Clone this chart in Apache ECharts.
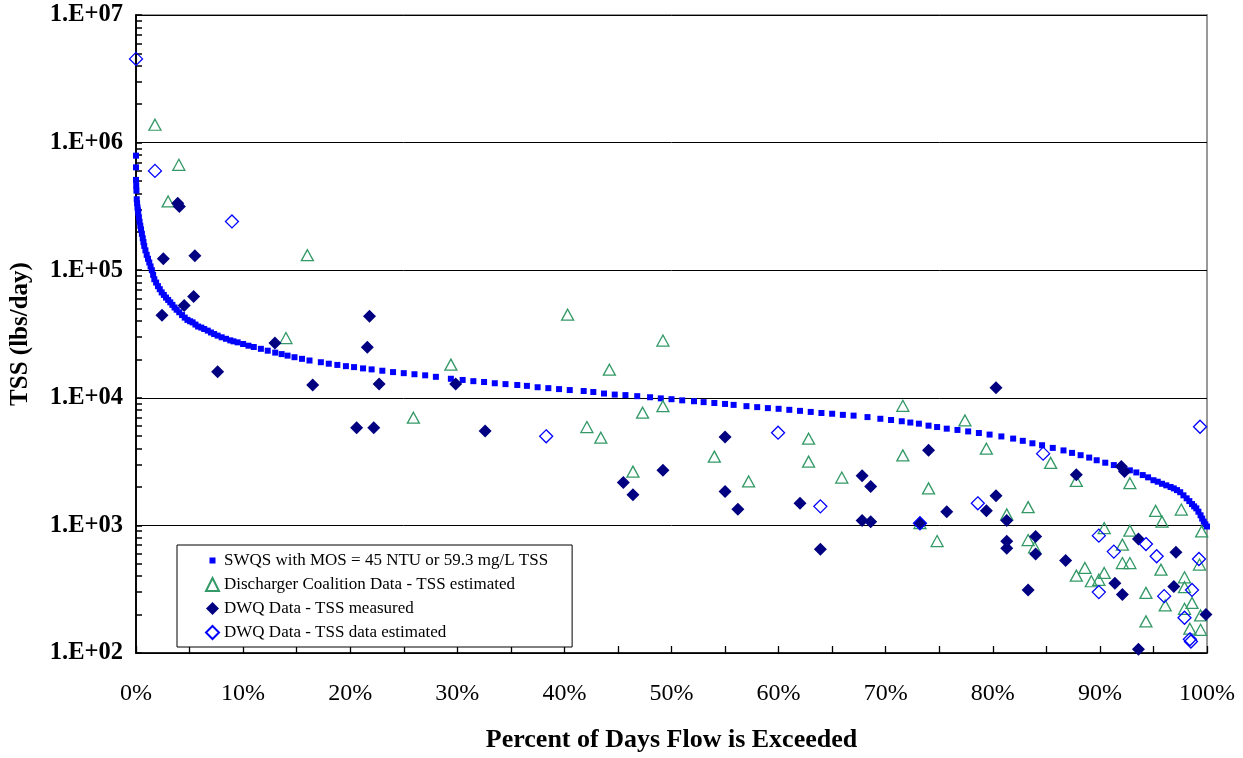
<!DOCTYPE html>
<html>
<head>
<meta charset="utf-8">
<script src="https://cdn.jsdelivr.net/npm/echarts@6/dist/echarts.min.js"></script>
<style>
  html, body { margin: 0; padding: 0; background: #fff; }
  #chart { width: 1243px; height: 758px; }
</style>
</head>
<body>
<div id="chart"></div>
<script>
// SWQS load duration curve (percent exceeded, TSS lbs/day)
const curvePct = [0, 0, 0, 0.02, 0.04, 0.07, 0.1, 0.14, 0.18, 0.21, 0.27, 0.33, 0.4, 0.47, 0.55, 0.63, 0.7, 0.77, 0.88, 1.0,
  1.12, 1.24, 1.36, 1.48, 1.6, 1.71, 1.88, 2.05, 2.22, 2.4, 2.6, 2.8, 3.0, 3.2, 3.4, 3.6, 3.8, 4.04, 4.3, 4.55,
  4.8, 5.05, 5.29, 5.55, 5.8, 6.1, 6.37, 6.7, 7.0, 7.3, 7.62, 8.0, 8.4, 8.8, 9.1, 9.49, 10.0, 10.5, 11.0, 11.66,
  12.3, 13.0, 13.6, 14.15, 14.8, 15.5, 16.2, 17.26, 18.0, 18.8, 19.6, 20.36, 21.2, 22.0, 23, 24, 25, 26, 27, 28,
  29.4, 30.5, 31.5, 32.5, 33.5, 34.5, 35.6, 36.5, 37.5, 38.5, 39.5, 40.5, 41.8, 42.7, 43.7, 44.7, 45.7, 46.8, 48.0, 49.0,
  50.0, 51.0, 52.1, 53.0, 54.0, 55.0, 55.8, 57.0, 58.0, 59.0, 60.0, 61.0, 62.0, 63.0, 64.0, 65.0, 66.0, 67.0, 68.3, 69.5,
  70.5, 71.5, 72.3, 73.1, 74.0, 74.8, 75.7, 76.7, 77.7, 78.7, 79.7, 80.8, 81.9, 82.8, 83.7, 84.6, 85.6, 86.6, 87.4, 88.2,
  89.0, 89.7, 90.5, 91.3, 92.0, 92.8, 93.4, 94.0, 94.5, 95.0, 95.4, 95.8, 96.2, 96.6, 96.9, 97.2, 97.5, 97.8, 98.1, 98.35,
  98.6, 98.8, 99.0, 99.2, 99.4, 99.55, 99.7, 99.85, 100]
const curveTss = [790000, 640000, 510000, 460000, 420000, 360000, 335000, 310000, 295000, 283000, 260000, 240000, 223000, 209000, 193000, 178000, 166000, 155000, 143000, 132000,
  123000, 115000, 107000, 100000, 92000, 85000, 80000, 75000, 71000, 67000, 64000, 61000, 58500, 56000, 53500, 51000, 49000, 46800, 44500, 42500,
  40800, 39800, 39000, 37500, 36200, 35500, 34600, 33600, 32500, 31600, 30700, 29800, 29000, 28200, 27700, 27200, 26400, 25600, 25000, 24200,
  23400, 22600, 22000, 21400, 20800, 20200, 19600, 19000, 18500, 18100, 17700, 17400, 17000, 16700, 16300, 15900, 15600, 15300, 15000, 14600,
  14100, 13800, 13500, 13300, 13000, 12800, 12600, 12400, 12100, 11900, 11700, 11500, 11300, 11100, 10800, 10600, 10500, 10300, 10100, 9900,
  9750, 9550, 9400, 9250, 9100, 8950, 8800, 8600, 8450, 8300, 8200, 8050, 7900, 7750, 7600, 7500, 7350, 7250, 7060, 6850,
  6700, 6550, 6400, 6270, 6050, 5900, 5730, 5600, 5450, 5300, 5150, 4980, 4790, 4600, 4400, 4250, 4050, 3870, 3700, 3550,
  3400, 3240, 3100, 2970, 2830, 2700, 2600, 2480, 2380, 2260, 2200, 2120, 2060, 2000, 1950, 1890, 1820, 1720, 1630, 1550,
  1470, 1410, 1360, 1280, 1200, 1130, 1070, 1020, 980]

// Discharger Coalition Data - TSS estimated
const coalitionPct = [1.77, 4.0, 3.0, 16.0, 14.0, 25.9, 29.4, 40.3, 42.1, 43.4, 44.2, 47.3, 49.2, 49.2, 46.4, 54.0, 57.2, 62.8, 62.8, 65.9,
  71.6, 71.6, 77.4, 79.4, 74.0, 85.4, 87.8, 92.8, 73.2, 74.8, 81.3, 83.3, 83.3, 83.9, 90.4, 92.8, 92.1, 88.6, 87.8, 89.2,
  89.9, 90.4, 92.1, 92.8, 94.3, 94.3, 95.2, 95.8, 95.7, 96.1, 97.6, 97.9, 97.9, 97.9, 98.6, 98.4, 99.4, 99.5, 99.3, 99.4]
const coalitionTss = [1380000, 670000, 346000, 131000, 29400, 6980, 18200, 44800, 5900, 4870, 16600, 7640, 28100, 8600, 2640, 3460, 2210, 4780, 3160, 2370,
  8660, 3540, 6650, 3990, 1950, 3090, 2230, 2140, 1040, 754, 1220, 1390, 768, 673, 953, 909, 707, 464, 404, 365,
  375, 424, 507, 507, 296, 177, 1300, 1070, 450, 236, 1330, 392, 328, 222, 247, 155, 152, 898, 493, 197]

// DWQ Data - TSS measured
const measuredPct = [3.9, 4.05, 2.55, 5.5, 5.38, 4.5, 2.43, 12.97, 7.62, 16.5, 21.8, 21.6, 20.6, 22.7, 29.85, 22.2, 32.6, 45.5, 49.2, 46.4,
  55.0, 55.0, 56.2, 62.0, 63.9, 67.8, 68.6, 67.8, 68.6, 80.3, 74.0, 87.8, 92.0, 92.3, 73.2, 75.7, 79.4, 80.3, 81.3, 81.3,
  81.3, 84.0, 84.0, 83.3, 86.8, 91.4, 92.1, 93.6, 97.1, 96.9, 99.9, 93.6]
const measuredTss = [335000, 315000, 123000, 130000, 62300, 53000, 44300, 26900, 16000, 12600, 43500, 24900, 5830, 12800, 12800, 5830, 5490, 2170, 2700, 1740,
  4930, 1840, 1340, 1490, 649, 2450, 2020, 1090, 1070, 12000, 3880, 2490, 2900, 2650, 1040, 1280, 1300, 1710, 1090, 750,
  661, 820, 597, 312, 530, 352, 288, 782, 615, 332, 200, 107]

// DWQ Data - TSS data estimated
const estimatedPct = [0, 1.77, 8.96, 38.3, 59.95, 63.9, 99.35, 84.7, 78.6, 73.2, 89.9, 91.3, 94.3, 95.3, 99.25, 89.9, 96.0, 98.6, 97.9, 98.4, 98.5]
const estimatedTss = [4530000, 600000, 241000, 4990, 5330, 1410, 5930, 3650, 1490, 1040, 831, 623, 714, 573, 545, 300, 279, 312, 189, 128, 123]

const seriesNames = [
  'SWQS with MOS = 45 NTU or 59.3 mg/L TSS',
  'Discharger Coalition Data - TSS estimated',
  'DWQ Data - TSS measured',
  'DWQ Data - TSS data estimated'
]

const pairs = (xs, ys) => xs.map((x, i) => [x, ys[i]])

// minor ticks 1..9 per decade, placed on a hidden exponent axis
const minorTicks = []
for (let e = 2; e < 7; e++) {
  for (let m = 1; m < 10; m++) minorTicks.push(Math.log10(m * Math.pow(10, e)))
}
minorTicks.push(7)

const serif = "'Liberation Serif', 'Times New Roman', serif"

const chart = echarts.init(document.getElementById('chart'))

const option = {
  animation: false,
  grid: {
    left: 135,
    right: 36,
    top: 15,
    bottom: 102,
    show: true,
    borderColor: '#999',
    borderWidth: 2
  },
  legend: {
    orient: 'vertical',
    left: 177,
    top: 545,
    padding: [7, 24, 6, 28],
    itemGap: 7,
    itemWidth: 13,
    itemHeight: 13,
    backgroundColor: '#fff',
    borderColor: '#000',
    borderWidth: 1,
    borderRadius: 0,
    textStyle: { fontFamily: serif, fontSize: 17, color: '#000' },
    data: [
      { name: seriesNames[0], icon: 'path://M0,0h0.05v0.05h-0.05z M3.5,3.5h6v6h-6z M12.95,12.95h0.05v0.05h-0.05z' },
      { name: seriesNames[1] },
      { name: seriesNames[2] },
      { name: seriesNames[3] }
    ]
  },
  xAxis: {
    type: 'value',
    min: 0,
    max: 100,
    interval: 5,
    name: 'Percent of Days Flow is Exceeded',
    nameLocation: 'middle',
    nameGap: 74,
    nameTextStyle: { fontFamily: serif, fontSize: 26, fontWeight: 'bold', color: '#000' },
    axisLine: { lineStyle: { color: '#000', width: 1.5 } },
    axisTick: { inside: true, length: 7, lineStyle: { color: '#000', width: 1.3 } },
    axisLabel: {
      margin: 29,
      fontFamily: serif,
      fontSize: 24,
      color: '#000',
      formatter: v => (v % 10 === 0 ? v + '%' : '')
    },
    splitLine: { show: false }
  },
  yAxis: [
    {
      type: 'log',
      logBase: 10,
      min: 100,
      max: 10000000,
      name: 'TSS (lbs/day)',
      nameLocation: 'middle',
      nameGap: 103,
      nameTextStyle: { fontFamily: serif, fontSize: 25, fontWeight: 'bold', color: '#000' },
      axisLine: { show: true, lineStyle: { color: '#000', width: 1.5 } },
      axisTick: { show: false },
      axisLabel: {
        margin: 13,
        padding: [9, 0, 0, 0],
        fontFamily: serif,
        fontSize: 24.5,
        fontWeight: 'bold',
        color: '#000',
        formatter: v => '1.E+' + String(Math.round(Math.log10(v))).padStart(2, '0')
      },
      splitLine: { lineStyle: { color: '#000', width: 1 } }
    },
    {
      type: 'value',
      position: 'left',
      offset: 0,
      min: 2,
      max: 7,
      axisLine: { show: true, lineStyle: { color: '#000', width: 1.5 } },
      axisLabel: { show: false },
      splitLine: { show: false },
      axisTick: { show: true, inside: true, length: 6, customValues: minorTicks, lineStyle: { color: '#000', width: 1.5 } }
    }
  ],
  series: [
    {
      name: seriesNames[0],
      type: 'scatter',
      symbol: 'rect',
      symbolSize: 6,
      itemStyle: { color: '#0000ff', opacity: 1 },
      emphasis: { disabled: true },
      data: pairs(curvePct, curveTss)
    },
    {
      name: seriesNames[1],
      type: 'scatter',
      symbol: 'triangle',
      symbolSize: [12, 11],
      itemStyle: { color: 'transparent', borderColor: '#339966', borderWidth: 1.3, opacity: 1 },
      emphasis: { disabled: true },
      data: pairs(coalitionPct, coalitionTss)
    },
    {
      name: seriesNames[2],
      type: 'scatter',
      symbol: 'diamond',
      symbolSize: 13,
      itemStyle: { color: '#000080', opacity: 1 },
      emphasis: { disabled: true },
      data: pairs(measuredPct, measuredTss)
    },
    {
      name: seriesNames[3],
      type: 'scatter',
      symbol: 'diamond',
      symbolSize: 13,
      itemStyle: { color: 'transparent', borderColor: '#0000ff', borderWidth: 1.3, opacity: 1 },
      emphasis: { disabled: true },
      data: pairs(estimatedPct, estimatedTss)
    }
  ]
}

chart.setOption(option)

window.addEventListener('resize', () => {
  chart && chart.resize()
})
</script>
</body>
</html>
